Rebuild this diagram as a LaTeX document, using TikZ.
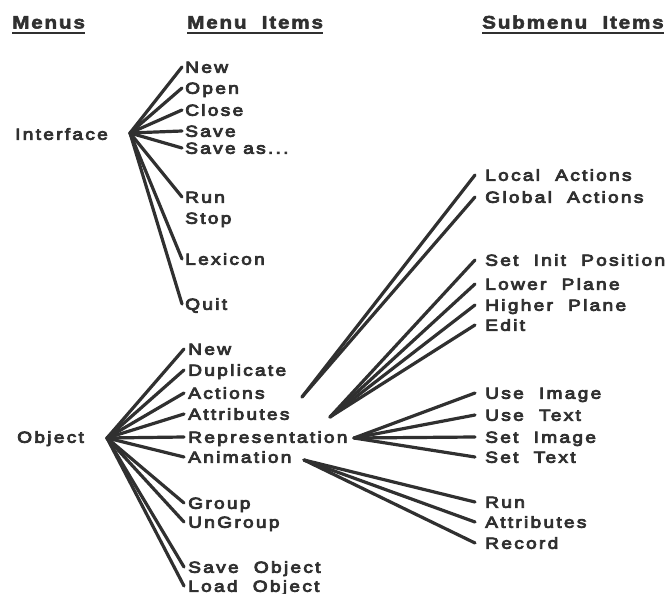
\documentclass[tikz,border=0pt]{standalone}
\usepackage{fontspec}
\newfontfamily\itemfont[LetterSpace=14,FakeStretch=1.2,FakeBold=5]{Liberation Sans}
\newfontfamily\headfont[LetterSpace=10,FakeStretch=1.15,FakeBold=3]{Liberation Sans Bold}
\usetikzlibrary{calc}
\definecolor{ink}{HTML}{303030}
\begin{document}
\begin{tikzpicture}[x=1pt,y=-1pt,
  item/.style={anchor=west, inner sep=0pt, text height=11.5pt, text depth=0pt,
    font=\itemfont\fontsize{16}{16}\selectfont, text=ink},
  head/.style={anchor=west, inner sep=0pt, text height=13pt, text depth=0pt,
    font=\headfont\fontsize{18}{18}\selectfont, text=ink},
  link/.style={draw=ink, line width=3.2pt, line cap=round},
  uline/.style={draw=ink, line width=2.6pt}]
\useasboundingbox (0,0) rectangle (667,594);
% headers
\node[head] (hmenus) at (12,22) {Menus};
\node[head] (hitems) at (187,22) {Menu\ \ Items};
\node[head] (hsub) at (482,22) {Submenu\ \ Items};
\foreach \h in {hmenus,hitems,hsub}
  \draw[uline] ([yshift=-4.5pt]\h.south west) -- ([yshift=-4.5pt]\h.south east);
% menus
\node[item] (iface) at (15,134) {Interface};
\node[item] (obj) at (17,437) {Object};
\coordinate (hubI) at (130,133);
\coordinate (hubO) at (107,438);
% interface items
\node[item] (new1) at (185,67) {New};
\node[item] (open) at (185,88) {Open};
\node[item] (close) at (185,110) {Close};
\node[item] (save) at (185,131) {Save};
\node[item] (saveas) at (185,148) {Save as...};
\node[item] (run1) at (185,197) {Run};
\node[item] (stop) at (185,218) {Stop};
\node[item] (lex) at (185,259) {Lexicon};
\node[item] (quit) at (185,304) {Quit};
% object items
\node[item] (new2) at (188,349) {New};
\node[item] (dup) at (188,370) {Duplicate};
\node[item] (act) at (188,393) {Actions};
\node[item] (attr) at (188,414) {Attributes};
\node[item] (repr) at (188,437) {Representation};
\node[item] (anim) at (188,457) {Animation};
\node[item] (grp) at (188,503) {Group};
\node[item] (ungrp) at (188,522) {UnGroup};
\node[item] (saveobj) at (188,567) {Save\ \ Object};
\node[item] (loadobj) at (188,586) {Load\ \ Object};
% submenu items
\node[item] (local) at (485,175) {Local\ \ Actions};
\node[item] (global) at (485,197) {Global\ \ Actions};
\node[item] (setinit) at (485,260) {Set\ \ Init\ \ Position};
\node[item] (lower) at (485,284) {Lower\ \ Plane};
\node[item] (higher) at (485,305) {Higher\ \ Plane};
\node[item] (edit) at (485,325) {Edit};
\node[item] (useimg) at (485,393) {Use\ \ Image};
\node[item] (usetxt) at (485,415) {Use\ \ Text};
\node[item] (setimg) at (485,437) {Set\ \ Image};
\node[item] (settxt) at (485,457) {Set\ \ Text};
\node[item] (run2) at (485,502) {Run};
\node[item] (attr2) at (485,522) {Attributes};
\node[item] (record) at (485,543) {Record};
% sub hubs
\coordinate (hubAct) at (302,397);
\coordinate (hubAttr) at (330,417);
\coordinate (hubRep) at (354,438);
\coordinate (hubAnim) at (304,460);
% connectors
\foreach \n in {new1,open,close,save,saveas,run1,lex,quit}
  \draw[link] (hubI) -- ([xshift=-3pt]\n.west);
\foreach \n in {new2,dup,act,attr,repr,anim,grp,ungrp,saveobj,loadobj}
  \draw[link] (hubO) -- ([xshift=-4pt]\n.west);
\foreach \n in {local,global}
  \draw[link] (hubAct) -- ([xshift=-10pt]\n.west);
\foreach \n in {setinit,lower,higher,edit}
  \draw[link] (hubAttr) -- ([xshift=-10pt]\n.west);
\foreach \n in {useimg,usetxt,setimg,settxt}
  \draw[link] (hubRep) -- ([xshift=-10pt]\n.west);
\foreach \n in {run2,attr2,record}
  \draw[link] (hubAnim) -- ([xshift=-10pt]\n.west);
\end{tikzpicture}
\end{document}
